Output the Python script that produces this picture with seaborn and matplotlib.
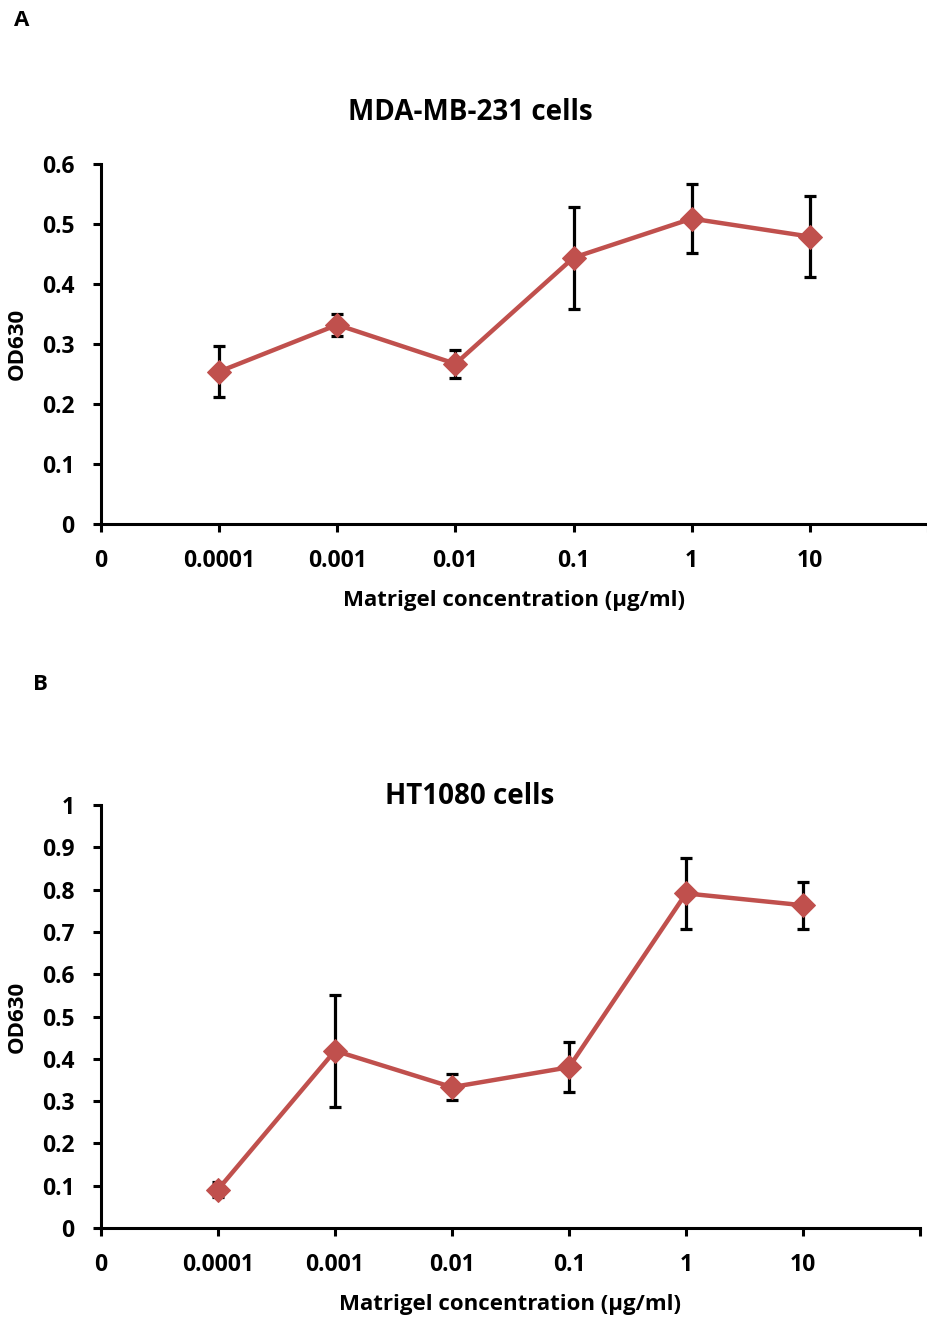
import matplotlib
matplotlib.use("Agg")
import matplotlib.pyplot as plt
import seaborn as sns
import pandas as pd
import numpy as np

# ---- data ----
concentrations = ["0.0001", "0.001", "0.01", "0.1", "1", "10"]
xtick_labels = ["0", "0.0001", "0.001", "0.01", "0.1", "1", "10", ""]

mda_mean = [0.254, 0.332, 0.267, 0.444, 0.509, 0.479]
mda_err = [0.043, 0.018, 0.023, 0.085, 0.057, 0.068]

ht_mean = [0.091, 0.419, 0.333, 0.380, 0.791, 0.763]
ht_err = [0.018, 0.133, 0.030, 0.059, 0.084, 0.055]

sns.set_theme(style="white")
plt.rcParams['font.family'] = ['Open Sans', 'DejaVu Sans']
plt.rcParams['font.weight'] = 'bold'
plt.rcParams['text.color'] = 'black'
plt.rcParams['axes.labelcolor'] = 'black'
plt.rcParams['xtick.color'] = 'black'
plt.rcParams['ytick.color'] = 'black'

W, H = 928, 1318
fig = plt.figure(figsize=(W / 100, H / 100), dpi=100)

RED = "#C0504D"
TICK_FS = 16.5
LABEL_FS = 16


def panel(rect, means, errs, ymax, ystep, title, title_y, letter, letter_xy):
    ax = fig.add_axes(rect)
    width_px = rect[2] * W
    df = pd.DataFrame({"pos": np.arange(1, len(means) + 1), "od": means})
    ax.errorbar(df["pos"], df["od"], yerr=errs, fmt="none", ecolor="black",
                elinewidth=2.3, capsize=4.2, capthick=2.3, zorder=2)
    sns.lineplot(data=df, x="pos", y="od", ax=ax, color=RED, linewidth=3.2,
                 marker="D", markersize=12, markeredgecolor=RED, zorder=3)
    ax.set_xlim(0, 7)
    ax.set_ylim(0, ymax)
    ax.set_xticks(np.arange(0, 8))
    ax.set_xticklabels(xtick_labels, fontsize=TICK_FS, fontweight="bold")
    yt = np.round(np.arange(0, ymax + 1e-9, ystep), 1)
    ax.set_yticks(yt)
    ax.set_yticklabels([("%g" % v) for v in yt], fontsize=TICK_FS, fontweight="bold")
    for s in ["top", "right"]:
        ax.spines[s].set_visible(False)
    for s in ["left", "bottom"]:
        ax.spines[s].set_color("black")
        ax.spines[s].set_linewidth(2.2)
    ax.tick_params(axis="both", direction="out", length=6, width=2.2,
                   colors="black", bottom=True, left=True)
    ax.tick_params(axis="x", pad=12)
    ax.tick_params(axis="y", pad=13)
    ax.set_xlabel("Matrigel concentration (µg/ml)", fontsize=LABEL_FS, fontweight="bold", labelpad=12)
    ax.set_ylabel("OD630", fontsize=LABEL_FS, fontweight="bold")
    ax.yaxis.set_label_coords((28 - 101) / width_px, 0.5)
    fig.text(470 / W, 1 - title_y / H, title, ha="center", va="center",
             fontsize=20, fontweight="bold")
    fig.text(letter_xy[0] / W, 1 - letter_xy[1] / H, letter, ha="center", va="center",
             fontsize=16, fontweight="bold")
    return ax


# top panel: left 101, right 928, top 164, bottom 524
panel([101 / W, 1 - 524 / H, (928 - 101) / W, (524 - 164) / H],
      mda_mean, mda_err, 0.6, 0.1, "MDA-MB-231 cells", 112, "A", (22, 20))
# bottom panel: left 101, right 920, top 805, bottom 1228
panel([101 / W, 1 - 1228 / H, (920 - 101) / W, (1228 - 805) / H],
      ht_mean, ht_err, 1.0, 0.1, "HT1080 cells", 797, "B", (40, 685))

fig.savefig("out.png", dpi=100)
